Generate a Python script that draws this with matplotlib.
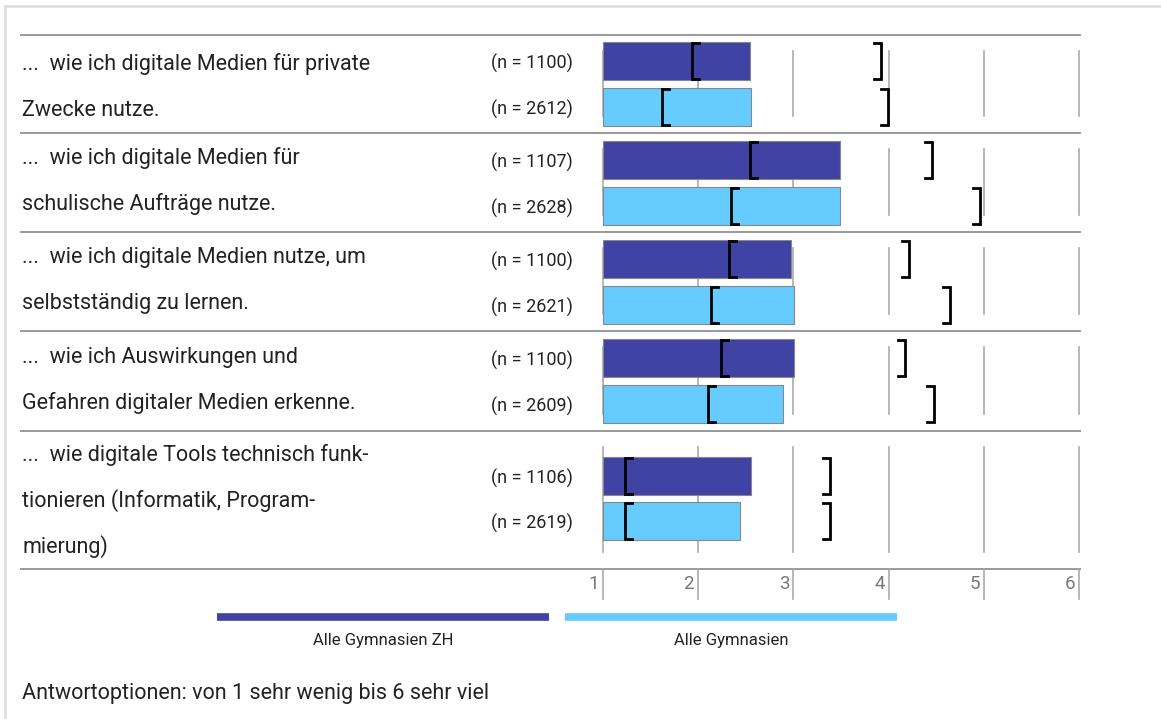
import matplotlib.pyplot as plt
from matplotlib.transforms import blended_transform_factory

# Data
items = [
    "...  wie ich digitale Medien für private\nZwecke nutze.",
    "...  wie ich digitale Medien für\nschulische Aufträge nutze.",
    "...  wie ich digitale Medien nutze, um\nselbstständig zu lernen.",
    "...  wie ich Auswirkungen und\nGefahren digitaler Medien erkenne.",
    "...  wie digitale Tools technisch funk-\ntionieren (Informatik, Program-\nmierung)",
]
n_zh = [1100, 1107, 1100, 1100, 1106]
n_all = [2612, 2628, 2621, 2609, 2619]
mean_zh = [2.54, 3.49, 2.97, 3.01, 2.55]
mean_all = [2.55, 3.49, 3.01, 2.89, 2.44]
low_zh = [1.94, 2.54, 2.32, 2.24, 1.23]
high_zh = [3.92, 4.46, 4.21, 4.17, 3.38]
low_all = [1.62, 2.34, 2.13, 2.10, 1.23]
high_all = [3.99, 4.96, 4.64, 4.48, 3.38]
series_names = ["Alle Gymnasien ZH", "Alle Gymnasien"]
scale_ticks = [1, 2, 3, 4, 5, 6]
note = "Antwortoptionen: von 1 sehr wenig bis 6 sehr viel"

c_zh = "#4043a3"
c_all = "#66ccff"
W, H = 1161, 719

plt.rcParams['font.family'] = ['Roboto', 'DejaVu Sans']

fig = plt.figure(figsize=(W / 100, H / 100), dpi=100)
ax = fig.add_axes([0, 0, 1, 1])
# x in scale units: 1 -> 603 px, 6 -> 1079 px
ppu = (1079 - 603) / 5
ax.set_xlim(1 - 603 / ppu, 1 + (W - 603) / ppu)
ax.set_ylim(H, 0)
ax.axis('off')
fx = blended_transform_factory(fig.transFigure, ax.transData)


def px(p):
    return 1 + (p - 603) / ppu


# frame
ax.plot([px(5), px(5)], [6, H], color="#dddddd", lw=1.8)
ax.plot([px(5), px(W)], [6, 6], color="#dddddd", lw=1.8)

seps = [35, 133, 232, 331, 431, 569]
centers = [(61, 107), (160, 206), (259, 305), (358, 404), (476, 521)]
text_y = [[64, 110], [158, 204], [258, 304], [357, 403], [455, 501, 547]]
bh = 38

for s in seps:
    ax.plot([px(21), px(1080)], [s, s], color="#999999", lw=1.4)

for i in range(len(items)):
    top, bot = seps[i] + 16, seps[i + 1] - 17
    for t in scale_ticks:
        ax.plot([t, t], [top, bot], color="#aaaaaa", lw=1.2, zorder=1)
    yz, ya = centers[i]
    ax.barh(yz, mean_zh[i] - 1, left=1, height=bh, color=c_zh,
            edgecolor="#888888", lw=0.8, zorder=2)
    ax.barh(ya, mean_all[i] - 1, left=1, height=bh, color=c_all,
            edgecolor="#888888", lw=0.8, zorder=2)
    serif = 7 / ppu
    for y, lo, hi in [(yz, low_zh[i], high_zh[i]), (ya, low_all[i], high_all[i])]:
        y0, y1 = y - bh / 2 + 1, y + bh / 2 - 1
        ax.plot([lo + serif, lo, lo, lo + serif], [y0, y0, y1, y1],
                color="black", lw=2, zorder=3, solid_joinstyle='miter')
        ax.plot([hi - serif, hi, hi, hi - serif], [y0, y0, y1, y1],
                color="black", lw=2, zorder=3, solid_joinstyle='miter')
    for line, ty in zip(items[i].split("\n"), text_y[i]):
        ax.text(22 / W, ty, line, transform=fx, fontsize=15.5, color="#222222",
                va="center", ha="left")
    ax.text(573 / W, yz + 2, f"(n = {n_zh[i]})", transform=fx, fontsize=13,
            color="#222222", va="center", ha="right")
    ax.text(573 / W, ya + 2, f"(n = {n_all[i]})", transform=fx, fontsize=13,
            color="#222222", va="center", ha="right")

# scale axis
for t in scale_ticks:
    ax.plot([t, t], [569, 599], color="#aaaaaa", lw=1.2)
    ax.text(t - 4 / ppu, 584, str(t), fontsize=13.5, color="#777777",
            ha="right", va="center")

# legend
ax.plot([px(217), px(549)], [617, 617], color=c_zh, lw=5.5, solid_capstyle='butt')
ax.plot([px(565), px(897)], [617, 617], color=c_all, lw=5.5, solid_capstyle='butt')
ax.text(px(383), 641, series_names[0], fontsize=12, color="#222222", ha="center", va="center")
ax.text(px(731), 641, series_names[1], fontsize=12, color="#222222", ha="center", va="center")

ax.text(22 / W, 694, note, transform=fx, fontsize=15.5, color="#222222",
        va="center", ha="left")

fig.savefig("out.png", dpi=100)
